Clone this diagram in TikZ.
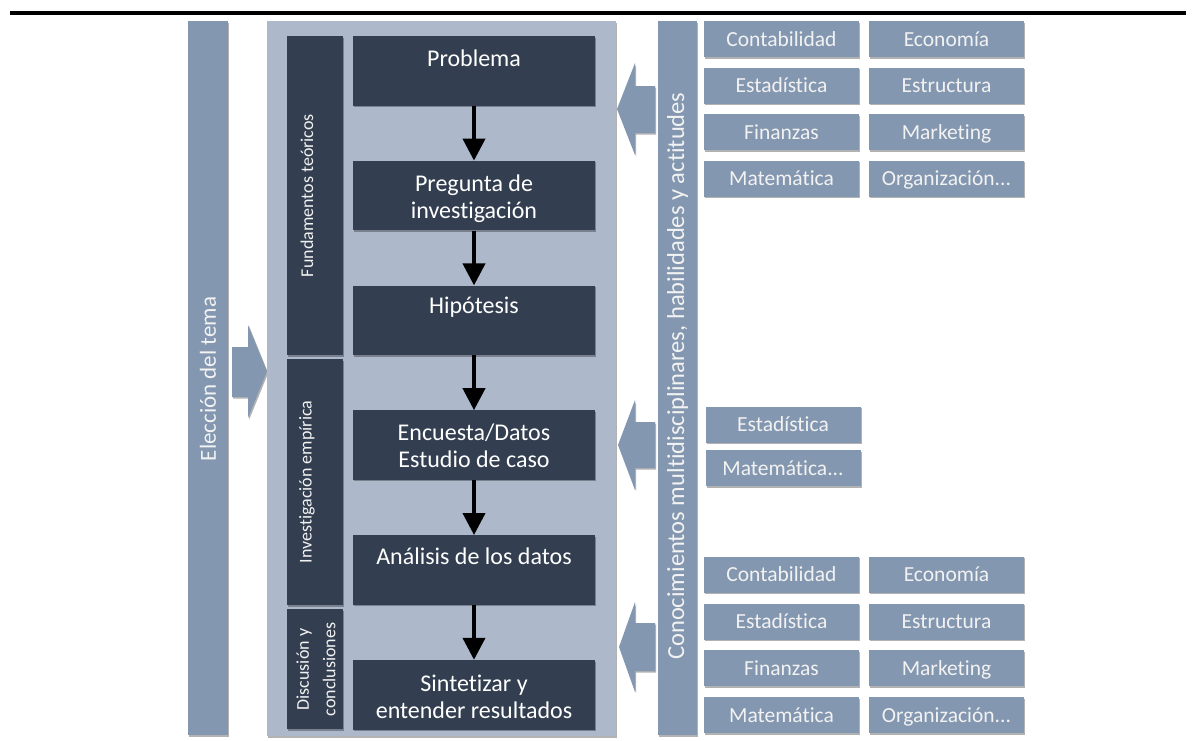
\documentclass[tikz,border=0pt]{standalone}
\usepackage{fontspec}
\setmainfont{Carlito}[Ligatures=NoCommon]
\usetikzlibrary{arrows.meta,shadows}
\definecolor{panel}{HTML}{ADB9CA}
\definecolor{mid}{HTML}{8497B0}
\definecolor{dark}{HTML}{333F50}
\definecolor{lt}{HTML}{F2F2F2}
\tikzset{
  shd/.style={drop shadow={shadow xshift=1.2pt,shadow yshift=-1.5pt,opacity=0.3,fill=black}},
  darkbox/.style={fill=dark, draw=none, minimum width=242pt, minimum height=69.5pt, inner sep=0pt, shd},
  catbox/.style={fill=dark, draw=none, minimum width=56pt, inner sep=0pt, shd},
  smallbox/.style={fill=mid, draw=none, minimum width=155pt, minimum height=36pt, inner sep=0pt, text height=17pt, text depth=3pt, text=lt, font=\fontsize{21.5}{25}\selectfont, shd},
  bar/.style={fill=mid, draw=none, minimum height=714pt, inner sep=0pt, shd},
  maintext/.style={text=white, font=\fontsize{24}{27}\selectfont, align=center, inner sep=0pt},
  cattext/.style={text=lt, font=\fontsize{18}{26.5}\selectfont, align=center, rotate=90, inner sep=0pt},
  bartext/.style={text=lt, align=center, rotate=90, inner sep=0pt},
  flow/.style={line width=4pt, -{Triangle[width=22pt,length=22pt]}},
  blockarrow/.style={fill=mid, shd},
}
\begin{document}
\begin{tikzpicture}[x=1pt,y=-1pt]
\useasboundingbox (0,0) rectangle (1196,740);
% top rule
\fill[black] (10,11) rectangle (1186,15);

% left bar
\node[bar, minimum width=40pt] (elec) at (208,378) {};
\node[bartext, font=\fontsize{23}{27}\selectfont] (elect) at (208,379) {Elección del tema};

% left block arrow
\fill[blockarrow] (232,347) -- (248,347) -- (248,325) -- (267,371.5) -- (248,418) -- (248,397) -- (232,397) -- cycle;

% panel
\node[fill=panel, draw=none, minimum width=349pt, minimum height=715pt, inner sep=0pt, shd] (panel) at (441.5,378.5) {};

% category columns
\node[catbox, minimum height=319pt] (fund) at (315,195.5) {};
\node[catbox, minimum height=246pt] (inv) at (315,482) {};
\node[catbox, minimum height=120pt] (disc) at (315,669) {};
\node[cattext] (fundt) at (307,195.5) {Fundamentos teóricos};
\node[cattext] (invt) at (307,482) {Investigación empírica};
\node[cattext] (disct) at (316,669.5) {Discusión y\\conclusiones};

% main boxes
\node[darkbox] (b1) at (474,70.75) {};
\node[darkbox] (b2) at (474,195.55) {};
\node[darkbox] (b3) at (474,320.35) {};
\node[darkbox] (b4) at (474,445.15) {};
\node[darkbox] (b5) at (474,569.95) {};
\node[darkbox] (b6) at (474,694.75) {};
\node[maintext] (t1) at (474,58) {Problema};
\node[maintext] (t2) at (474,198.5) {Pregunta de\\investigación};
\node[maintext] (t3) at (474,307) {Hipótesis};
\node[maintext] (t4) at (474,446) {Encuesta/Datos\\Estudio de caso};
\node[maintext] (t5) at (474,556) {Análisis de los datos};
\node[maintext] (t6) at (474,697) {Sintetizar y\\entender resultados};

\draw[flow] (b1.south) -- (b2.north);
\draw[flow] (b2.south) -- (b3.north);
\draw[flow] (b3.south) -- (b4.north);
\draw[flow] (b4.south) -- (b5.north);
\draw[flow] (b5.south) -- (b6.north);

% right block arrows
\fill[blockarrow] (655,86) -- (635,86) -- (635,63) -- (617,109) -- (635,155) -- (635,133) -- (655,133) -- cycle;
\fill[blockarrow] (655,422) -- (635,422) -- (635,400) -- (618,445) -- (635,490) -- (635,468) -- (655,468) -- cycle;
\fill[blockarrow] (655,623) -- (635,623) -- (635,602) -- (619,647) -- (635,692) -- (635,671) -- (655,671) -- cycle;

% right bar
\node[bar, minimum width=39pt] (conoc) at (677.5,378) {};
\node[bartext, font=\fontsize{24.5}{28}\selectfont] (conoct) at (677.5,376) {Conocimientos multidisciplinares, habilidades y actitudes};

% top group
\node[smallbox] (a1) at (781.5,39) {Contabilidad};
\node[smallbox] (a2) at (946.5,39) {Economía};
\node[smallbox] (a3) at (781.5,85.5) {Estadística};
\node[smallbox] (a4) at (946.5,85.5) {Estructura};
\node[smallbox] (a5) at (781.5,132) {Finanzas};
\node[smallbox] (a6) at (946.5,132) {Marketing};
\node[smallbox] (a7) at (781.5,178.5) {Matemática};
\node[smallbox] (a8) at (946.5,178.5) {Organización...};

% middle group
\node[smallbox] (m1) at (783,424.5) {Estadística};
\node[smallbox] (m2) at (783,468) {Matemática...};

% bottom group
\node[smallbox] (c1) at (781.5,574.5) {Contabilidad};
\node[smallbox] (c2) at (946.5,574.5) {Economía};
\node[smallbox] (c3) at (781.5,621.5) {Estadística};
\node[smallbox] (c4) at (946.5,621.5) {Estructura};
\node[smallbox] (c5) at (781.5,668) {Finanzas};
\node[smallbox] (c6) at (946.5,668) {Marketing};
\node[smallbox] (c7) at (781.5,715) {Matemática};
\node[smallbox] (c8) at (946.5,715) {Organización...};
\end{tikzpicture}
\end{document}
